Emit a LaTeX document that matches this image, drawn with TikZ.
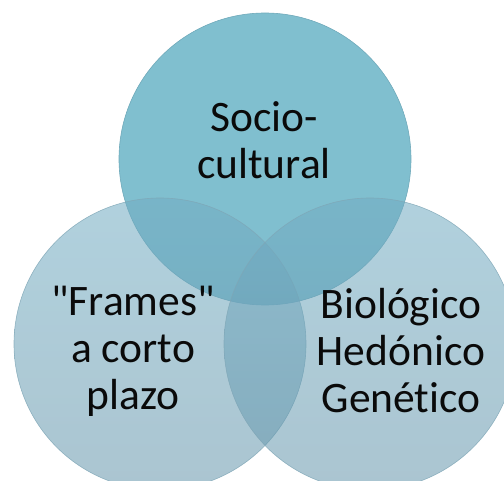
\documentclass[tikz,border=0pt]{standalone}
\usepackage{fontspec}
\setmainfont{Carlito}[Ligatures={TeXOff,CommonOff}]
\usetikzlibrary{positioning}
\definecolor{topteal}{HTML}{80BFCF}
\definecolor{topedge}{HTML}{6FA9BA}
\definecolor{lowblue}{HTML}{73ADC3}
\definecolor{lowbluedark}{HTML}{6897AC}
\definecolor{lowedge}{HTML}{7FA6B6}
\definecolor{labeltext}{HTML}{0A0A0A}

\tikzset{
    vennset/.style={circle, minimum size=292pt, inner sep=0pt},
    toppart/.style={vennset, fill=topteal, draw=topedge, line width=0.6pt},
    lowpart/.style={vennset, top color=lowblue, bottom color=lowbluedark,
        fill opacity=0.56, draw=lowedge, draw opacity=0.8, line width=0.6pt},
    venntext/.style={font=\fontsize{43.5}{47}\selectfont, text=labeltext, align=center}
}

\begin{document}
\begin{tikzpicture}[x=1pt, y=-1pt]
    \useasboundingbox (0,0) rectangle (504,481);

    % Three sets
    \node[toppart] (social) at (265,159) {};
    \node[lowpart] (frames) at (160,344) {};
    \node[lowpart] (biology) at (370,344) {};

    % Labels
    \node[venntext] (socialtext) at (264,140) {Socio-\\cultural};
    \node[venntext] (framestext) at (133,351) {"Frames"\\a corto\\plazo};
    \node[venntext] (biologytext) at (401,351) {Biológico\\Hedónico\\Genético};
\end{tikzpicture}
\end{document}
